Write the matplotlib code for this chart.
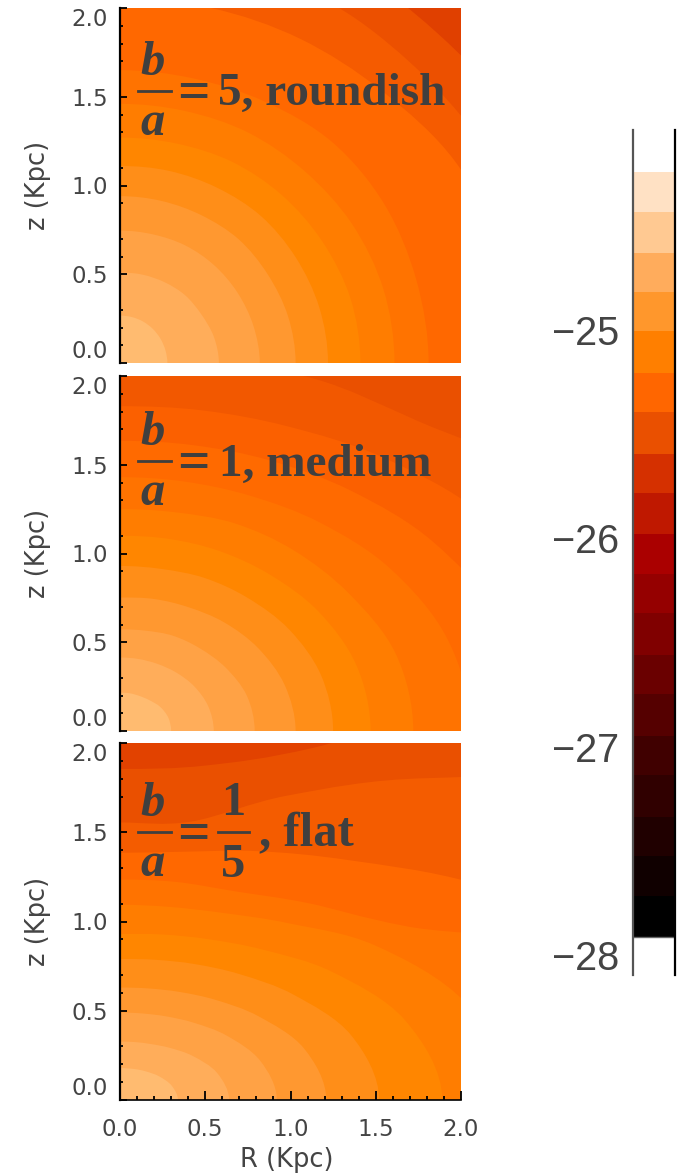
import matplotlib

matplotlib.use("Agg")
import matplotlib.pyplot as plt
import numpy as np
from matplotlib.colors import ListedColormap
from matplotlib.lines import Line2D
from matplotlib.patches import PathPatch
from matplotlib.path import Path

W, H = 680, 1176

# contour radius (Kpc) at these polar angles
angles_deg = [0, 15, 30, 45, 60, 75, 90]

round_contours = [
    [0.278, 0.276, 0.274, 0.272, 0.270, 0.268, 0.267],
    [0.58, 0.57, 0.55, 0.54, 0.525, 0.515, 0.51],
    [0.82, 0.81, 0.795, 0.78, 0.765, 0.75, 0.746],
    [1.03, 1.02, 1.0, 0.985, 0.96, 0.945, 0.94],
    [1.22, 1.21, 1.19, 1.17, 1.14, 1.12, 1.11],
    [1.41, 1.40, 1.37, 1.34, 1.31, 1.28, 1.27],
    [1.61, 1.60, 1.57, 1.53, 1.50, 1.47, 1.46],
    [1.81, 1.80, 1.79, 1.76, 1.70, 1.66, 1.65],
    [2.35, 2.33, 2.27, 2.17, 2.11, 2.07, 2.05],
    [2.60, 2.55, 2.46, 2.40, 2.37, 2.30, 2.25],
    [2.80, 2.75, 2.70, 2.63, 2.60, 2.55, 2.50],
]
medium_contours = [
    [0.30, 0.293, 0.272, 0.245, 0.228, 0.22, 0.216],
    [0.55, 0.536, 0.503, 0.466, 0.437, 0.42, 0.414],
    [0.79, 0.77, 0.715, 0.66, 0.62, 0.585, 0.573],
    [1.03, 1.0, 0.935, 0.865, 0.805, 0.77, 0.752],
    [1.25, 1.22, 1.145, 1.06, 0.995, 0.945, 0.93],
    [1.47, 1.435, 1.345, 1.245, 1.17, 1.12, 1.10],
    [1.72, 1.675, 1.55, 1.44, 1.35, 1.275, 1.25],
    [2.06, 1.99, 1.83, 1.66, 1.53, 1.455, 1.43],
    [2.42, 2.33, 2.125, 1.915, 1.76, 1.667, 1.635],
    [2.86, 2.73, 2.45, 2.18, 1.98, 1.87, 1.83],
    [3.40, 3.20, 2.85, 2.47, 2.29, 2.14, 2.10],
]
flat_contours = [
    [0.34, 0.313, 0.265, 0.224, 0.198, 0.183, 0.179],
    [0.64, 0.589, 0.493, 0.413, 0.362, 0.336, 0.327],
    [0.92, 0.851, 0.722, 0.612, 0.541, 0.502, 0.49],
    [1.21, 1.117, 0.938, 0.793, 0.699, 0.647, 0.63],
    [1.52, 1.403, 1.178, 0.996, 0.879, 0.813, 0.79],
    [1.89, 1.73, 1.436, 1.19, 1.04, 0.96, 0.93],
    [2.35, 2.10, 1.73, 1.40, 1.21, 1.12, 1.094],
    [3.60, 3.00, 1.945, 1.56, 1.35, 1.265, 1.235],
    [4.00, 3.30, 2.42, 1.90, 1.61, 1.44, 1.385],
    [5.00, 4.50, 3.50, 2.55, 1.97, 1.615, 1.555],
    [5.00, 5.00, 4.50, 3.20, 2.28, 1.94, 1.855],
]

# band colours, centre outwards
round_colors = [
    "#FFBB70", "#FFAD5A", "#FFA245", "#FF9830", "#FF8E18", "#FF8600",
    "#FF7D00", "#FF7300", "#FF6800", "#F55B00", "#EC5000", "#E04000",
]
medium_colors = [
    "#FFBB70", "#FFAD5A", "#FFA245", "#FF9830", "#FF8E18", "#FF8600",
    "#FF7D00", "#FF7300", "#FF6A00", "#FB6000", "#F25800", "#EA5000",
]
flat_colors = [
    "#FFBB70", "#FFAD5A", "#FFA245", "#FF9830", "#FF8E18", "#FF8600",
    "#FF7D00", "#FF7300", "#FF6800", "#F45C00", "#EA5000", "#E24200",
]

# colour bar bins, top to bottom
bar_edges = [
    -24.241, -24.434, -24.630, -24.818, -25.005, -25.206, -25.394, -25.595,
    -25.783, -25.979, -26.171, -26.359, -26.560, -26.747, -26.949, -27.136,
    -27.338, -27.525, -27.717, -27.914,
]
bar_colors = [
    "#FFE1C4", "#FFC992", "#FFAC5C", "#FF972C", "#FF7F00", "#FF6600",
    "#EA5000", "#D53000", "#BF1800", "#AA0000", "#950000", "#800000",
    "#6A0000", "#550000", "#400000", "#300000", "#200000", "#100000",
    "#000000",
]
bar_ticks = [-25, -26, -27, -28]
bar_labels = ["\u221225", "\u221226", "\u221227", "\u221228"]

major_ticks = [0.0, 0.5, 1.0, 1.5, 2.0]
major_labels = ["0.0", "0.5", "1.0", "1.5", "2.0"]
x_minor = [0.1, 0.2, 0.3, 0.4, 0.6, 0.7, 0.8, 0.9, 1.1, 1.2, 1.3, 1.4, 1.6, 1.7, 1.8, 1.9]
z_minor = [0.1, 0.2, 0.3, 0.6, 0.7, 0.9, 1.1, 1.3, 1.4, 1.7, 1.8, 1.9]

panel_tops = [8, 376, 743]
panel_bottoms = [363, 731, 1100]
TEXT_GREY = "#3F3F3F"
LABEL_GREY = "#444444"


def pixel_axes(fig, left, top, right, bottom):
    return fig.add_axes([left / W, 1 - bottom / H, (right - left) / W, (bottom - top) / H])


def contour_path(radii):
    # closed curve from the origin through the read points, smooth bezier between them
    theta = np.radians(angles_deg)
    r = np.array(radii)
    pts = np.column_stack([r * np.cos(theta), r * np.sin(theta)])
    tang = np.zeros_like(pts)
    tang[1:-1] = (pts[2:] - pts[:-2]) / 2
    tang[0] = [0, np.hypot(*(pts[1] - pts[0]))]
    tang[-1] = [-np.hypot(*(pts[-1] - pts[-2])), 0]
    verts = [(0, 0), tuple(pts[0])]
    codes = [Path.MOVETO, Path.LINETO]
    for i in range(len(pts) - 1):
        verts += [tuple(pts[i] + tang[i] / 3), tuple(pts[i + 1] - tang[i + 1] / 3), tuple(pts[i + 1])]
        codes += [Path.CURVE4, Path.CURVE4, Path.CURVE4]
    verts.append((0, 0))
    codes.append(Path.CLOSEPOLY)
    return Path(verts, codes)


def draw_panel(ax, contours, colors, is_last):
    # outermost band first, inner ones painted over it
    ax.set_facecolor(colors[len(contours)])
    for i in range(len(contours) - 1, -1, -1):
        ax.add_patch(PathPatch(contour_path(contours[i]), facecolor=colors[i], edgecolor="none", lw=0))
    ax.set_xlim(0, 2)
    ax.set_ylim(0, 2)
    for side in ["top", "right"]:
        ax.spines[side].set_visible(False)
    ax.spines["left"].set_linewidth(1.6)
    ax.spines["bottom"].set_visible(is_last)
    ax.spines["bottom"].set_linewidth(1.2)

    ax.set_yticks(major_ticks, major_labels)
    ax.set_yticks(z_minor, minor=True)
    ax.tick_params(axis="y", which="major", direction="in", length=5, width=1.3,
                   labelsize=16.5, labelcolor=LABEL_GREY, pad=8.5)
    ax.tick_params(axis="y", which="minor", direction="in", length=2.5, width=1.3)
    ax.get_yticklabels()[0].set_verticalalignment("bottom")
    ax.get_yticklabels()[-1].set_verticalalignment("top")
    ax.set_ylabel("z (Kpc)", fontsize=18.5, color=LABEL_GREY, va="center")
    ax.yaxis.set_label_coords(-0.24, 0.5)

    if is_last:
        ax.set_xticks(major_ticks, major_labels)
        ax.set_xticks(x_minor, minor=True)
        ax.tick_params(axis="x", which="major", direction="in", length=6.5, width=1.3,
                       labelsize=16.5, labelcolor=LABEL_GREY, pad=13)
        ax.tick_params(axis="x", which="minor", direction="in", length=3, width=1.3)
        ax.set_xlabel("R (Kpc)", fontsize=18.5, color=LABEL_GREY, va="center")
        ax.xaxis.set_label_coords(0.49, -0.168)
    else:
        ax.set_xticks([])


def serif(fig, x, y, s, style="normal", ha="left", size=34):
    fig.text(x / W, 1 - y / H, s, family="Liberation Serif", weight="bold", style=style,
             fontsize=size, color=TEXT_GREY, ha=ha, va="baseline")


def bar_line(fig, x0, x1, y):
    fig.add_artist(Line2D([x0 / W, x1 / W], [1 - y / H, 1 - y / H], color=TEXT_GREY, lw=2))


def fraction_lhs(fig, top_base, bar_y, low_base):
    serif(fig, 153, top_base, "b", style="italic", ha="center", size=35)
    bar_line(fig, 138, 171, bar_y)
    serif(fig, 153, low_base, "a", style="italic", ha="center", size=35)
    serif(fig, 177, bar_y + 18, "=", size=41)


fig = plt.figure(figsize=(W / 100, H / 100), dpi=100)

all_contours = [round_contours, medium_contours, flat_contours]
all_colors = [round_colors, medium_colors, flat_colors]
for n in range(3):
    ax = pixel_axes(fig, 120, panel_tops[n], 461, panel_bottoms[n])
    draw_panel(ax, all_contours[n], all_colors[n], n == 2)

fraction_lhs(fig, 75, 91, 135)
serif(fig, 218, 105, "5, roundish")
fraction_lhs(fig, 445, 461, 505)
serif(fig, 219, 476, "1, medium")
fraction_lhs(fig, 816, 832, 876)
serif(fig, 233, 815, "1", ha="center", size=35)
bar_line(fig, 218, 249, 832)
serif(fig, 233, 877, "5", ha="center", size=35)
serif(fig, 259, 846, ", flat", size=35)

# colour bar
cax = pixel_axes(fig, 633, 130, 675, 975)
cmap = ListedColormap(bar_colors)
cax.pcolormesh([0, 1], bar_edges, np.arange(len(bar_colors)).reshape(-1, 1), cmap=cmap)
cax.hlines(bar_edges[-1], 0, 1, color="#666666", lw=1)
cax.set_xlim(0, 1)
cax.set_ylim(-25 - 645 / 208.3, -25 + 200 / 208.3)
cax.set_xticks([])
cax.set_yticks(bar_ticks, bar_labels)
cax.tick_params(axis="y", length=0, pad=10, labelsize=28.5, labelcolor="#444444")
for lab in cax.get_yticklabels():
    lab.set_family("Liberation Sans")
for side in ["top", "bottom"]:
    cax.spines[side].set_visible(False)
cax.spines["left"].set_color("#555555")
cax.spines["left"].set_linewidth(1.6)
cax.spines["right"].set_linewidth(1.6)

fig.savefig("out.png", dpi=100)
